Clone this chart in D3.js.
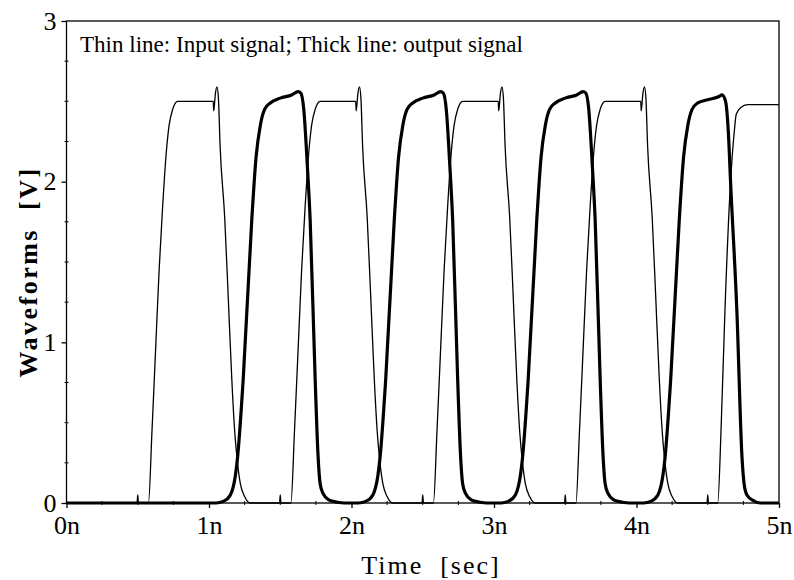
<!DOCTYPE html>
<html><head><meta charset="utf-8">
<script src="https://cdn.jsdelivr.net/npm/d3@7"></script>
<style>body{margin:0;background:#fff}svg{display:block}text{font-family:"Liberation Serif","Times New Roman",serif;fill:#000}</style>
</head><body><svg id="c" width="794" height="580"></svg>
<script>
const xTickValues = [0,1,2,3,4,5];
const xTickLabels = ["0n","1n","2n","3n","4n","5n"];
const yTickValues = [0,1,2,3];
const xMinorTicks = [0.25,0.5,0.75,1.25,1.5,1.75,2.25,2.5,2.75,3.25,3.5,3.75,4.25,4.5,4.75];
const yMinorTicks = [0.25,0.5,0.75,1.25,1.5,1.75,2.25,2.5,2.75];
const titleText = "Thin line: Input signal; Thick line: output signal";
const xLabel = "Time  [sec]";
const yLabel = "Waveforms  [V]";

// Input signal (thin line): [time ns, volts]
const inputSignal = [
[0,0],[0.495,0],[0.50,0.05],[0.505,0],[0.575,0],[0.60,0.45],[0.625,0.95],[0.65,1.45],[0.675,1.85],[0.70,2.18],[0.72,2.35],[0.745,2.45],[0.78,2.50],[1.03,2.50],[1.033,2.44],[1.045,2.55],[1.056,2.59],[1.066,2.52],[1.078,2.22],[1.11,1.78],[1.135,1.28],[1.16,0.77],[1.18,0.45],[1.20,0.25],[1.22,0.12],[1.25,0.04],[1.29,0],
[1.495,0],[1.50,0.05],[1.505,0],[1.575,0],[1.60,0.45],[1.625,0.95],[1.65,1.45],[1.675,1.85],[1.70,2.18],[1.72,2.35],[1.745,2.45],[1.78,2.50],[2.03,2.50],[2.033,2.44],[2.045,2.55],[2.056,2.59],[2.066,2.52],[2.078,2.22],[2.11,1.78],[2.135,1.28],[2.16,0.77],[2.18,0.45],[2.20,0.25],[2.22,0.12],[2.25,0.04],[2.29,0],
[2.495,0],[2.50,0.05],[2.505,0],[2.575,0],[2.60,0.45],[2.625,0.95],[2.65,1.45],[2.675,1.85],[2.70,2.18],[2.72,2.35],[2.745,2.45],[2.78,2.50],[3.03,2.50],[3.033,2.44],[3.045,2.55],[3.056,2.59],[3.066,2.52],[3.078,2.22],[3.11,1.78],[3.135,1.28],[3.16,0.77],[3.18,0.45],[3.20,0.25],[3.22,0.12],[3.25,0.04],[3.29,0],
[3.495,0],[3.50,0.05],[3.505,0],[3.575,0],[3.60,0.45],[3.625,0.95],[3.65,1.45],[3.675,1.85],[3.70,2.18],[3.72,2.35],[3.745,2.45],[3.78,2.50],[4.03,2.50],[4.033,2.44],[4.045,2.55],[4.056,2.59],[4.066,2.52],[4.078,2.22],[4.11,1.78],[4.135,1.28],[4.16,0.77],[4.18,0.45],[4.20,0.25],[4.22,0.12],[4.25,0.04],[4.29,0],
[4.495,0],[4.50,0.05],[4.505,0],[4.57,0],[4.595,0.5],[4.62,1.18],[4.66,2.0],[4.685,2.3],[4.70,2.42],[4.73,2.46],[4.78,2.48],[5.0,2.48]
];

// Output signal (thick line): [time ns, volts]
const outputSignal = [
[0,0],[1.05,0],[1.10,0.01],[1.15,0.05],[1.17,0.10],[1.185,0.17],[1.20,0.28],[1.24,0.77],[1.30,1.76],[1.33,2.15],[1.36,2.35],[1.39,2.45],[1.43,2.49],[1.50,2.52],[1.58,2.54],[1.625,2.56],[1.645,2.55],[1.665,2.45],[1.69,2.1],[1.71,1.76],[1.745,0.77],[1.765,0.3],[1.78,0.12],[1.80,0.06],[1.84,0.02],[1.90,0.005],[1.95,0],
[2.05,0],[2.10,0.01],[2.15,0.05],[2.17,0.10],[2.185,0.17],[2.20,0.28],[2.24,0.77],[2.30,1.76],[2.33,2.15],[2.36,2.35],[2.39,2.45],[2.43,2.49],[2.50,2.52],[2.58,2.54],[2.625,2.56],[2.645,2.55],[2.665,2.45],[2.69,2.1],[2.71,1.76],[2.745,0.77],[2.765,0.3],[2.78,0.12],[2.80,0.06],[2.84,0.02],[2.90,0.005],[2.95,0],
[3.05,0],[3.10,0.01],[3.15,0.05],[3.17,0.10],[3.185,0.17],[3.20,0.28],[3.24,0.77],[3.30,1.76],[3.33,2.15],[3.36,2.35],[3.39,2.45],[3.43,2.49],[3.50,2.52],[3.58,2.54],[3.625,2.56],[3.645,2.55],[3.665,2.45],[3.69,2.1],[3.71,1.76],[3.745,0.77],[3.765,0.3],[3.78,0.12],[3.80,0.06],[3.84,0.02],[3.90,0.005],[3.95,0],
[4.05,0],[4.10,0.01],[4.15,0.05],[4.17,0.10],[4.185,0.17],[4.20,0.28],[4.24,0.77],[4.30,1.76],[4.33,2.15],[4.36,2.35],[4.39,2.45],[4.43,2.49],[4.50,2.51],[4.58,2.53],[4.60,2.54],[4.625,2.50],[4.645,2.3],[4.66,2.0],[4.705,1.18],[4.74,0.29],[4.755,0.12],[4.775,0.05],[4.82,0.015],[4.87,0],[5,0]
];

const svg = d3.select("#c");
const L = 66.5, R = 779, T = 21, B = 503;
const x = d3.scaleLinear().domain([0,5]).range([L,R]);
const y = d3.scaleLinear().domain([0,3]).range([B,T]);

// frame
svg.append("rect").attr("x",L).attr("y",T).attr("width",R-L).attr("height",B-T)
  .attr("fill","none").attr("stroke","#000").attr("stroke-width",1.3);

// minor ticks
svg.selectAll(".xm").data(xMinorTicks).join("line")
  .attr("x1",d=>x(d)).attr("x2",d=>x(d)).attr("y1",B-2).attr("y2",B+2)
  .attr("stroke","#000").attr("stroke-width",1);
svg.selectAll(".ym").data(yMinorTicks).join("line")
  .attr("y1",d=>y(d)).attr("y2",d=>y(d)).attr("x1",L-2).attr("x2",L+2)
  .attr("stroke","#000").attr("stroke-width",1);

// axes (major ticks + labels)
const xAxis = d3.axisBottom(x).tickValues(xTickValues).tickFormat((d,i)=>xTickLabels[i]).tickSize(5).tickPadding(8);
const gx = svg.append("g").attr("transform",`translate(0,${B})`).call(xAxis);
gx.select(".domain").remove();
gx.selectAll("line").attr("stroke-width",1.3);
gx.selectAll("text").attr("font-family","Liberation Serif").attr("font-size",26).attr("fill","#000");

const yAxis = d3.axisLeft(y).tickValues(yTickValues).tickFormat(d3.format("d")).tickSize(5).tickPadding(5);
const gy = svg.append("g").attr("transform",`translate(${L},0)`).call(yAxis);
gy.select(".domain").remove();
gy.selectAll("line").attr("stroke-width",1.3);
gy.selectAll("text").attr("font-family","Liberation Serif").attr("font-size",26).attr("fill","#000");

// lines
const line = d3.line().x(d=>x(d[0])).y(d=>y(d[1])).curve(d3.curveMonotoneX);
svg.append("path").datum(inputSignal).attr("d",line).attr("fill","none").attr("stroke","#000").attr("stroke-width",1.3).attr("stroke-linejoin","round");
svg.append("path").datum(outputSignal).attr("d",line).attr("fill","none").attr("stroke","#000").attr("stroke-width",3.2).attr("stroke-linejoin","round");

// titles
svg.append("text").attr("x",80).attr("y",52).attr("font-size",23).attr("textLength",443).attr("lengthAdjust","spacingAndGlyphs").text(titleText);
svg.append("text").attr("x",431).attr("y",574).attr("text-anchor","middle").attr("font-size",26).attr("letter-spacing","2px").style("white-space","pre").text(xLabel);
svg.append("text").attr("transform","translate(37,272) rotate(-90)").attr("text-anchor","middle").attr("font-size",26).attr("font-weight","bold").attr("letter-spacing","2.5px").style("white-space","pre").text(yLabel);
</script></body></html>
